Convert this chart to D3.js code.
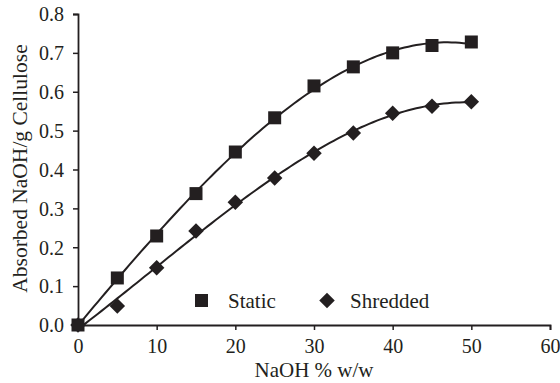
<!DOCTYPE html>
<html><head><meta charset="utf-8">
<script src="https://cdn.jsdelivr.net/npm/d3@7"></script>
<style>body{margin:0;background:#fff}svg text{font-family:"Liberation Serif","Times New Roman",serif;fill:#231f20}</style>
</head><body><svg id="c" width="560" height="383"></svg>
<script>
const naoh = [0,5,10,15,20,25,30,35,40,45,50];
const staticVals = [0,0.121,0.229,0.338,0.445,0.533,0.615,0.664,0.700,0.719,0.728];
const shreddedVals = [0,0.049,0.147,0.242,0.316,0.378,0.442,0.494,0.545,0.563,0.574];
const xTicks = [0,10,20,30,40,50,60];
const yTicks = [0,0.1,0.2,0.3,0.4,0.5,0.6,0.7,0.8];
const seriesNames = ["Static","Shredded"];
const ink = "#231f20";

const svg = d3.select("#c");
const x = d3.scaleLinear().domain([0,60]).range([78,550]);
const y = d3.scaleLinear().domain([0,0.8]).range([325,14]);

function polyfit(xs, ys, deg){
  const n = deg+1;
  const A = Array.from({length:n},()=>new Array(n+1).fill(0));
  for(let k=0;k<xs.length;k++){
    for(let i=0;i<n;i++){
      for(let j=0;j<n;j++) A[i][j]+=Math.pow(xs[k],i+j);
      A[i][n]+=ys[k]*Math.pow(xs[k],i);
    }
  }
  for(let i=0;i<n;i++){
    let p=i; for(let r=i+1;r<n;r++) if(Math.abs(A[r][i])>Math.abs(A[p][i])) p=r;
    [A[i],A[p]]=[A[p],A[i]];
    for(let r=0;r<n;r++){ if(r===i) continue; const f=A[r][i]/A[i][i]; for(let c=i;c<=n;c++) A[r][c]-=f*A[i][c]; }
  }
  return A.map((row,i)=>row[n]/row[i]);
}
function curve(vals){
  const c = polyfit(naoh, vals, 3);
  return d3.range(0,50.01,0.5).map(t=>[t, c.reduce((s,ci,i)=>s+ci*Math.pow(t,i),0)]);
}
const line = d3.line().x(d=>x(d[0])).y(d=>y(d[1]));

const xa = svg.append("g").attr("transform","translate(0,325)")
  .call(d3.axisBottom(x).tickValues(xTicks).tickSize(5).tickFormat(d3.format("d")));
const ya = svg.append("g").attr("transform","translate(78,0)")
  .call(d3.axisLeft(y).tickValues(yTicks).tickSize(5).tickFormat(d3.format(".1f")));
[xa,ya].forEach(g=>{
  g.attr("font-family",null);
  g.select(".domain").attr("stroke",ink).attr("stroke-width",1.8);
  g.selectAll(".tick line").attr("stroke",ink).attr("stroke-width",1.5);
  g.selectAll("text").style("font-size","20px").attr("fill",ink);
});
xa.selectAll("text").attr("y",28).attr("dy",0);
ya.selectAll("text").attr("x",-14).attr("dy","0.34em");

svg.append("path").attr("d",line(curve(staticVals))).attr("fill","none").attr("stroke",ink).attr("stroke-width",2);
svg.append("path").attr("d",line(curve(shreddedVals))).attr("fill","none").attr("stroke",ink).attr("stroke-width",2);

const sq = d3.symbol().type(d3.symbolSquare).size(169);
const diamond = {draw(ctx,size){const r=Math.sqrt(size/2);ctx.moveTo(0,-r);ctx.lineTo(r,0);ctx.lineTo(0,r);ctx.lineTo(-r,0);ctx.closePath();}};
const dm = d3.symbol().type(diamond).size(120);
svg.append("g").selectAll("path").data(naoh.map((v,i)=>[v,staticVals[i]])).join("path")
  .attr("d",sq).attr("transform",d=>`translate(${x(d[0])},${y(d[1])})`).attr("fill",ink);
svg.append("g").selectAll("path").data(naoh.map((v,i)=>[v,shreddedVals[i]])).join("path")
  .attr("d",dm).attr("transform",d=>`translate(${x(d[0])},${y(d[1])})`).attr("fill",ink);

svg.append("path").attr("d",sq).attr("transform","translate(201.5,300.5)").attr("fill",ink);
svg.append("text").attr("x",228).attr("y",308).style("font-size","21px").text(seriesNames[0]);
svg.append("path").attr("d",dm).attr("transform","translate(327,300.5)").attr("fill",ink);
svg.append("text").attr("x",350).attr("y",308).style("font-size","21px").text(seriesNames[1]);

svg.append("text").attr("x",314).attr("y",377).attr("text-anchor","middle").style("font-size","21px").text("NaOH % w/w");
svg.append("text").attr("transform","translate(27,168.5) rotate(-90)").attr("text-anchor","middle").style("font-size","21.5px").text("Absorbed NaOH/g Cellulose");
</script></body></html>
